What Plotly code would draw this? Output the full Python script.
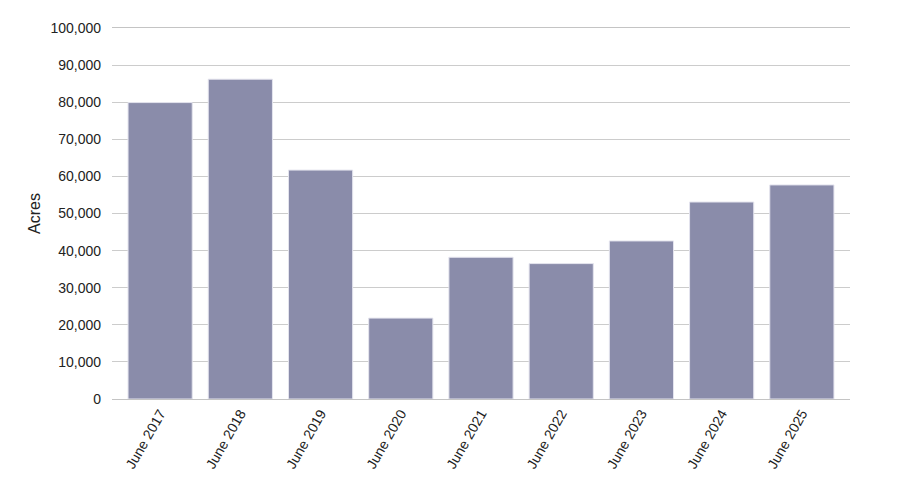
import plotly.graph_objects as go

years = ["June 2017", "June 2018", "June 2019", "June 2020", "June 2021",
         "June 2022", "June 2023", "June 2024", "June 2025"]
acres = [79900, 86200, 61700, 21800, 38200, 36500, 42600, 53100, 57700]

fig = go.Figure()

fig.add_trace(go.Bar(
    x=years,
    y=acres,
    marker=dict(color="#8a8caa", line=dict(color="#e4e4ee", width=1)),
    hovertemplate="%{x}<br>%{y:,} acres<extra></extra>"
))

# page body has an 8px margin, so the plot margins are shifted to compensate
fig.update_layout(
    width=900,
    height=500,
    margin=dict(l=104, r=58, t=15, b=109),
    paper_bgcolor="white",
    plot_bgcolor="white",
    font=dict(family="Liberation Sans, Arial, sans-serif", size=14, color="#222222"),
    bargap=0.2,
    showlegend=False,
    xaxis=dict(
        range=[-0.6, 8.6],
        tickangle=-60,
        showgrid=False,
        showline=True,
        mirror=True,
        linecolor="#c4c4c4",
        linewidth=1,
        ticks="",
        tickfont=dict(size=14),
    ),
    yaxis=dict(
        title=dict(text="Acres", font=dict(size=16), standoff=5),
        range=[0, 100000],
        dtick=10000,
        tickformat=",",
        showgrid=True,
        gridcolor="#cccccc",
        gridwidth=1,
        zeroline=False,
        ticks="",
        ticklabelstandoff=10,
        tickfont=dict(size=14),
    ),
)

fig.write_html("out.html")
